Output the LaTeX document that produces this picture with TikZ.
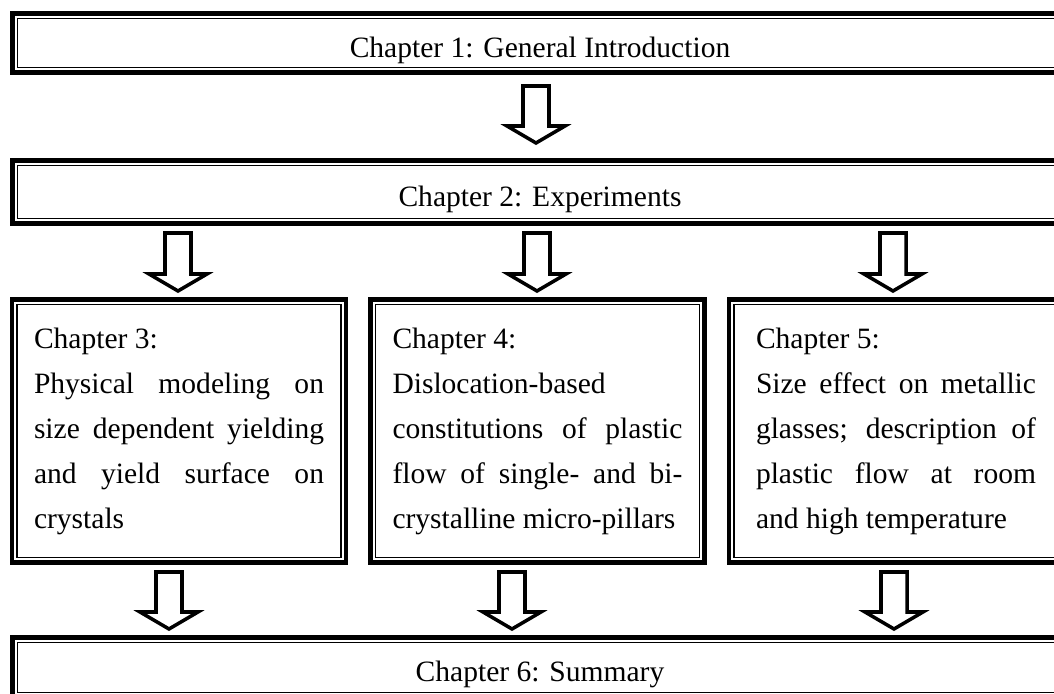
\documentclass[tikz,border=0pt]{standalone}
\usepackage{fontspec}
\setmainfont{Liberation Serif}
\usepackage{tikz}
\def\upx{0.025cm}

\begin{document}
\begin{tikzpicture}[x=\upx,y=-\upx,
  wide/.style={draw,line width=3.5pt,outer sep=0pt,inner sep=0pt,
               minimum width=1055*\upx,
               font=\fontsize{21}{32}\selectfont,
               text height=21pt,text depth=1pt},
  col/.style={draw,line width=3.5pt,outer sep=0pt,inner sep=0pt,
              minimum width=334*\upx,minimum height=263*\upx,
              font=\fontsize{21}{32}\selectfont,
              align=justify,text width=290*\upx},
  inline/.style={line width=0.85pt},
  blockarrow/.style={draw,line width=2.5pt,miter limit=10},
]
\useasboundingbox (0,0) rectangle (1054,694);

\node[wide,minimum height=59*\upx] (ch1) at (540,43) {Chapter 1: General Introduction};
\node[wide,minimum height=63*\upx] (ch2) at (540,192) {Chapter 2: Experiments};
\node[col] (ch3) at (179,431) {Chapter 3:\\
  Physical modeling on\linebreak size dependent yielding\linebreak
  and yield surface on\linebreak crystals};
\node[col] (ch4) at (537.5,431) {Chapter 4:\\
  Dislocation-based\\
  constitutions of plastic\linebreak flow of single- and bi-\linebreak
  crystalline micro-pillars};
\node[col,text width=280*\upx] (ch5) at (896,431) {Chapter 5:\\
  Size effect on metallic\linebreak glasses; description of\linebreak
  plastic flow at room\linebreak and high temperature};
\node[wide,minimum height=60*\upx] (ch6) at (540,667.5) {Chapter 6: Summary};

% thin inner frame of every box
\foreach \n in {ch1,ch2,ch3,ch4,ch5,ch6}
  \draw[inline] ([shift={(5,5)}]\n.north west) rectangle ([shift={(-5,-5)}]\n.south east);

% hollow block arrows: x / top / tip
\foreach \x/\ya/\yb in {536/86/143, 178/233/291, 537/233/291, 893/233/291,
                        169/572/629, 512/572/629, 894/572/629}
  \draw[blockarrow] (\x-13,\ya) -- (\x+13,\ya) -- (\x+13,\yb-17) -- (\x+29,\yb-17)
    -- (\x,\yb) -- (\x-29,\yb-17) -- (\x-13,\yb-17) -- cycle;
\end{tikzpicture}
\end{document}
